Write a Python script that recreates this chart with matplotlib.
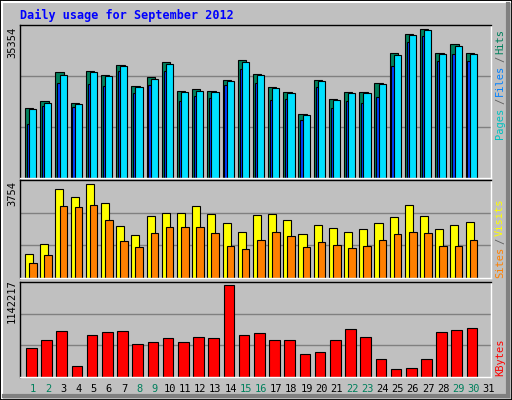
import matplotlib.pyplot as plt
from matplotlib.patches import Rectangle
import numpy as np

days = list(range(1, 32))
weekend = [1, 2, 8, 9, 15, 16, 22, 23, 29, 30]

hits = [16640, 18400, 25120, 17840, 25520, 24560, 26960, 21920, 23920, 27680,
        20800, 21200, 20800, 23360, 28160, 24800, 21680, 20560, 15200, 23360,
        18800, 20560, 20560, 22640, 29680, 34240, 35354, 29840, 31840, 29840]
files = [16400, 17840, 24560, 17600, 25280, 24320, 26720, 21680, 23600, 27200,
         20480, 20800, 20480, 23120, 27680, 24560, 21440, 20240, 14960, 23120,
         18560, 20240, 20240, 22400, 29360, 33920, 35100, 29600, 31280, 29600]
pages = [12800, 17120, 22640, 16880, 22400, 21920, 25520, 20240, 22160, 25520,
         18320, 19520, 19040, 22160, 26000, 22640, 18560, 18800, 13760, 21680,
         16640, 18320, 17840, 19280, 26720, 32240, 33680, 27920, 29600, 27920]
visits = [949, 1355, 3550, 3266, 3754, 3022, 2087, 1721, 2493, 2615,
          2615, 2900, 2575, 2209, 1843, 2534, 2575, 2331, 1762, 2127,
          2005, 1843, 1965, 2209, 2453, 2940, 2493, 1965, 2127, 2249]
sites = [583, 908, 2900, 2859, 2940, 2331, 1477, 1233, 1802, 2046,
         2046, 2046, 1802, 1274, 1152, 1518, 1843, 1680, 1233, 1436,
         1314, 1192, 1274, 1518, 1762, 1843, 1802, 1274, 1274, 1518]
kbytes = [354365, 454421, 566984, 141746, 516956, 554477, 566984, 404393, 429407, 479435,
          429407, 491942, 479435, 1142217, 516956, 541970, 454421, 454421, 279323, 304337,
          454421, 591998, 491942, 216788, 104225, 116732, 216788, 554477, 579491, 604505]

W, H = 512, 400
bg = '#c0c0c0'
mono = 'DejaVu Sans Mono'
fig = plt.figure(figsize=(W / 100, H / 100), dpi=100, facecolor=bg)

def box(x0, y0, x1, y1):
    return [x0 / W, 1 - y1 / H, (x1 - x0) / W, (y1 - y0) / H]

def panel(rect, top):
    ax = fig.add_axes(rect)
    ax.set_facecolor(bg)
    ax.set_xlim(0, 31)
    ax.set_ylim(0, top)
    ax.set_xticks([])
    ax.set_yticks([])
    for y in (top / 3, 2 * top / 3):
        ax.axhline(y, color='#808080', lw=1, zorder=0)
    ax.spines['left'].set_color('black')
    ax.spines['top'].set_color('black')
    ax.spines['right'].set_color('white')
    ax.spines['bottom'].set_color('white')
    for s in ax.spines.values():
        s.set_linewidth(1)
    return ax

x = np.arange(len(hits))
kw = dict(align='edge', edgecolor='black', linewidth=0.8)

ax1 = panel(box(20, 25, 491, 178), max(hits) * 455 / 442)
ax1.bar(x + 0.33, hits, 0.55, color='#00805c', **kw)
ax1.bar(x + 0.45, pages, 0.45, color='#0040ff', **kw)
ax1.bar(x + 0.6, files, 0.47, color='#00e0ff', **kw)

ax2 = panel(box(20, 180, 491, 278), max(visits) * 290 / 277)
ax2.bar(x + 0.33, visits, 0.53, color='#ffff00', **kw)
ax2.bar(x + 0.6, sites, 0.5, color='#ff8000', **kw)

ax3 = panel(box(20, 282, 491, 377), max(kbytes) * 282 / 274)
ax3.bar(x + 0.4, kbytes, 0.7, color='#ff0000', **kw)

for d in days:
    xf = (20 + (d - 1 + 0.85) * 15.2) / W
    fig.text(xf, 1 - 389 / H, str(d), ha='center', va='center', fontsize=7.5,
             family=mono, color='#00805c' if d in weekend else 'black')

fig.text(20 / W, 1 - 15 / H, 'Daily usage for September 2012', fontsize=8.5,
         family=mono, weight='bold', color='#0000ff', va='center')

fig.text(12 / W, 1 - 42 / H, str(max(hits)), rotation=90, fontsize=7.5,
         family=mono, ha='center', va='center')
fig.text(12 / W, 1 - 194 / H, str(max(visits)), rotation=90, fontsize=7.5,
         family=mono, ha='center', va='center')
fig.text(12 / W, 1 - 301 / H, str(max(kbytes)), rotation=90, fontsize=7.5,
         family=mono, ha='center', va='center')

side = [('Pages', '#00c0c0', 123), ('/', '#606060', 101), ('Files', '#0080ff', 80),
        ('/', '#606060', 59), ('Hits', '#00805c', 41),
        ('Sites', '#ff8000', 262), ('/', '#606060', 241), ('Visits', '#ffff00', 217),
        ('KBytes', '#ff0000', 357)]
for label, col, yc in side:
    fig.text(500 / W, 1 - yc / H, label, rotation=90, fontsize=7.5, family=mono,
             color=col, ha='center', va='center')

# bevelled outer border
fig.add_artist(Rectangle((0, 0), 1, 1, transform=fig.transFigure, fill=False,
                         edgecolor='black', lw=2))
fig.add_artist(plt.Line2D([2 / W, 2 / W], [2 / H, 1 - 2 / H], color='white', lw=1.5))
fig.add_artist(plt.Line2D([2 / W, 1 - 2 / W], [1 - 2 / H, 1 - 2 / H], color='white', lw=1.5))
fig.add_artist(plt.Line2D([1 - 4 / W, 1 - 4 / W], [4 / H, 1 - 4 / H], color='#808080', lw=3))
fig.add_artist(plt.Line2D([4 / W, 1 - 4 / W], [4 / H, 4 / H], color='#808080', lw=3))

fig.savefig('out.png', dpi=100, facecolor=bg)
